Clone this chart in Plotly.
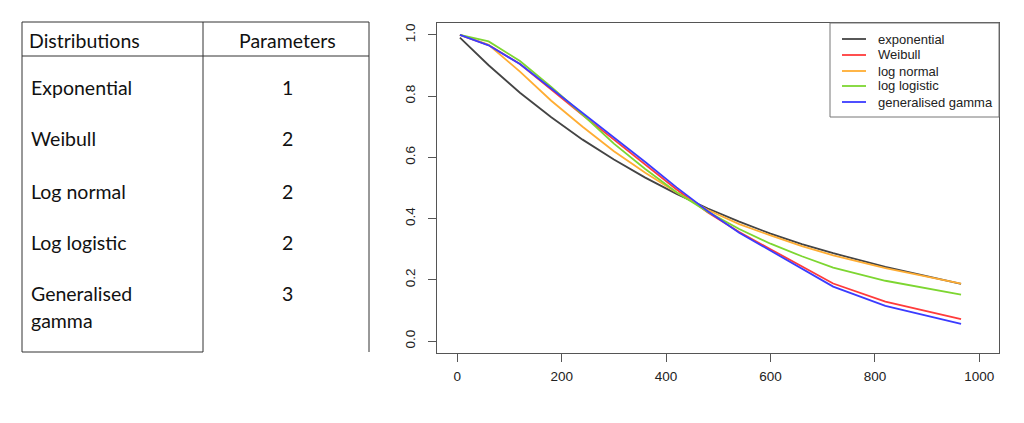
import plotly.graph_objects as go

# ---- data ----
times = [5, 60, 120, 180, 240, 300, 360, 420, 480, 540, 600, 660, 720, 820, 965]
exponential = [0.991, 0.901, 0.811, 0.731, 0.658, 0.593, 0.534, 0.481, 0.433, 0.390, 0.351, 0.317, 0.287, 0.242, 0.187]
weibull = [1.0, 0.967, 0.905, 0.820, 0.738, 0.658, 0.576, 0.495, 0.420, 0.356, 0.300, 0.245, 0.188, 0.129, 0.072]
lognormal = [1.0, 0.968, 0.880, 0.785, 0.700, 0.620, 0.550, 0.485, 0.428, 0.382, 0.345, 0.310, 0.280, 0.238, 0.188]
loglogistic = [1.0, 0.979, 0.915, 0.830, 0.740, 0.645, 0.562, 0.486, 0.422, 0.366, 0.318, 0.277, 0.240, 0.197, 0.152]
gengamma = [1.0, 0.966, 0.905, 0.825, 0.748, 0.668, 0.585, 0.502, 0.424, 0.354, 0.295, 0.238, 0.178, 0.115, 0.056]

series_names = ["exponential", "Weibull", "log normal", "log logistic", "generalised gamma"]
series_values = [exponential, weibull, lognormal, loglogistic, gengamma]
series_colors = ["#444444", "#ff3b3b", "#ffad33", "#7dd631", "#3b3bff"]

x_ticks = [0, 200, 400, 600, 800, 1000]
y_ticks = [0.0, 0.2, 0.4, 0.6, 0.8, 1.0]

table_header = ["Distributions", "Parameters"]
table_dists = ["Exponential", "Weibull", "Log normal", "Log logistic", "Generalised<br>gamma"]
table_params = ["1", "2", "2", "2", "3"]

W, H = 1024, 423


def px(x):
    return x / W


def py(y):
    return 1 - y / H


fig = go.Figure()
for name, vals, col in zip(series_names, series_values, series_colors):
    fig.add_trace(go.Scatter(x=times, y=vals, mode="lines", name=name,
                             line=dict(color=col, width=1.8), showlegend=False))

shapes = []
annotations = []

# ---- table ----
tcol = "#333333"
table_lines = [
    (22, 22, 369, 22), (22, 56, 369, 56), (22, 22, 22, 352),
    (203, 22, 203, 352), (369, 22, 369, 352), (22, 352, 203, 352),
]
for x0, y0, x1, y1 in table_lines:
    shapes.append(dict(type="line", xref="paper", yref="paper",
                       x0=px(x0), y0=py(y0), x1=px(x1), y1=py(y1),
                       line=dict(color=tcol, width=1)))

tfont = dict(family="Lato, Open Sans, sans-serif", size=19.5, color="#111111")
annotations.append(dict(x=px(27), y=py(40), xref="paper", yref="paper", text=table_header[0],
                        showarrow=False, xanchor="left", yanchor="middle", font=tfont))
annotations.append(dict(x=px(287), y=py(40), xref="paper", yref="paper", text=table_header[1],
                        showarrow=False, xanchor="center", yanchor="middle", font=tfont))
row_y = [88, 139, 191, 242, 293]
for d, p, yy in zip(table_dists, table_params, row_y):
    parts = d.split("<br>")
    for k, part in enumerate(parts):
        annotations.append(dict(x=px(29), y=py(yy + 27 * k), xref="paper", yref="paper", text=part,
                                showarrow=False, xanchor="left", yanchor="middle", font=tfont))
    annotations.append(dict(x=px(287), y=py(yy), xref="paper", yref="paper", text=p,
                            showarrow=False, xanchor="center", yanchor="middle", font=tfont))

# ---- legend (R style box) ----
shapes.append(dict(type="rect", xref="paper", yref="paper",
                   x0=px(830), y0=py(117), x1=px(999), y1=py(23),
                   line=dict(color="#777777", width=1), fillcolor="white"))
lfont = dict(family="Liberation Sans, Arial, sans-serif", size=13, color="#222222")
leg_y = [39, 55, 71, 86, 102]
for name, col, yy in zip(series_names, series_colors, leg_y):
    shapes.append(dict(type="line", xref="paper", yref="paper",
                       x0=px(842), y0=py(yy), x1=px(866), y1=py(yy),
                       line=dict(color=col, width=1.8)))
    annotations.append(dict(x=px(876), y=py(yy), xref="paper", yref="paper", text=name,
                            showarrow=False, xanchor="left", yanchor="middle", font=lfont))

axfont = dict(family="Liberation Sans, Arial, sans-serif", size=13.5, color="#222222")
fig.update_layout(
    width=W, height=H, margin=dict(l=0, r=0, t=0, b=0),
    paper_bgcolor="white", plot_bgcolor="white",
    shapes=shapes, annotations=annotations,
    xaxis=dict(domain=[px(437), px(999)], range=[-38.9, 1037.7],
               tickvals=x_ticks, ticktext=[str(v) for v in x_ticks],
               showgrid=False, zeroline=False, showline=True, mirror=True,
               linecolor="#555555", linewidth=1, ticks="outside", ticklen=8,
               tickcolor="#555555", tickfont=axfont, automargin=False,
               ticklabelstandoff=3),
    yaxis=dict(domain=[py(353), py(23)], range=[-0.039, 1.039],
               tickvals=y_ticks, ticktext=["%.1f" % v for v in y_ticks],
               tickangle=-90,
               showgrid=False, zeroline=False, showline=True, mirror=True,
               linecolor="#555555", linewidth=1, ticks="outside", ticklen=8,
               tickcolor="#555555", tickfont=axfont, automargin=False,
               ticklabelstandoff=8),
)

fig.write_html("out.html")
